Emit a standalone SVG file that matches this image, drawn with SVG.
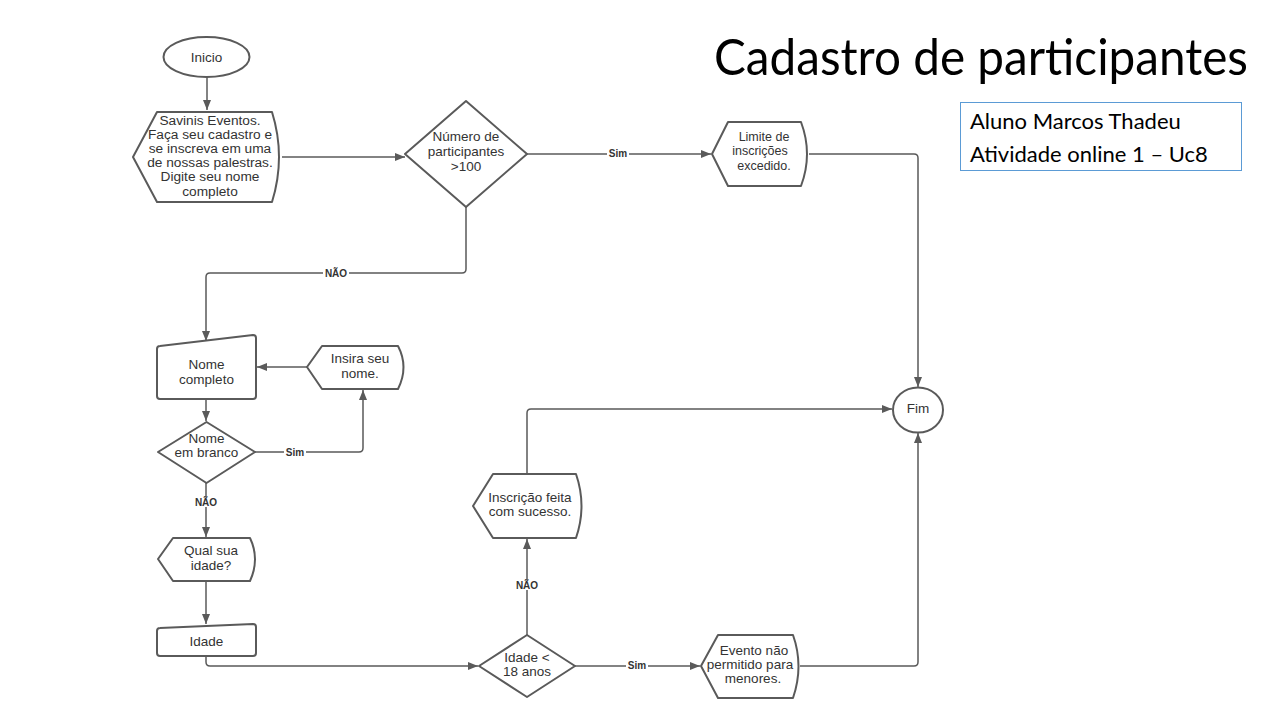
<svg xmlns="http://www.w3.org/2000/svg" width="1280" height="720" viewBox="0 0 1280 720">
<defs>
<marker id="arr" viewBox="0 0 10 10" refX="10" refY="5" markerWidth="10" markerHeight="10" markerUnits="userSpaceOnUse" orient="auto">
<path d="M0,1 L10,5 L0,9 Z" fill="#5a5a5a"/>
</marker>
<style>
.n{fill:#fff;stroke:#5a5a5a;stroke-width:2;stroke-linejoin:round}
.t{font-family:"Liberation Sans",Arial,sans-serif;font-size:13.5px;fill:#333;text-anchor:middle}
.c{fill:none;stroke:#5a5a5a;stroke-width:1.5;stroke-linejoin:round}
.l{font-family:"Liberation Sans",Arial,sans-serif;font-size:10px;font-weight:bold;fill:#333;text-anchor:middle}
.lb{fill:#fff}
</style>
</defs>
<rect width="1280" height="720" fill="#fff"/>

<g id="connectors">
<path class="c" d="M207,77 V110" marker-end="url(#arr)"/>
<path class="c" d="M282,157 H405" marker-end="url(#arr)"/>
<path class="c" d="M527,154 H711" marker-end="url(#arr)"/>
<path class="c" d="M809,154 H914 Q918,154 918,158 V387" marker-end="url(#arr)"/>
<path class="c" d="M466,207 V269 Q466,273 462,273 H210 Q206,273 206,277 V341" marker-end="url(#arr)"/>
<path class="c" d="M307,367 H257" marker-end="url(#arr)"/>
<path class="c" d="M206,399 V421" marker-end="url(#arr)"/>
<path class="c" d="M255,452 H359 Q363,452 363,448 V390" marker-end="url(#arr)"/>
<path class="c" d="M206,483 V537" marker-end="url(#arr)"/>
<path class="c" d="M206,581 V624" marker-end="url(#arr)"/>
<path class="c" d="M206,656 V662 Q206,666 210,666 H478" marker-end="url(#arr)"/>
<path class="c" d="M527,635 V539" marker-end="url(#arr)"/>
<path class="c" d="M527,474 V413 Q527,409 531,409 H892" marker-end="url(#arr)"/>
<path class="c" d="M575,666 H700" marker-end="url(#arr)"/>
<path class="c" d="M800,666 H914 Q918,666 918,662 V433" marker-end="url(#arr)"/>
<rect class="lb" x="323" y="268" width="26" height="10"/>
<text class="l" x="336" y="277">NÃO</text>
<rect class="lb" x="607" y="149" width="22" height="10"/>
<text class="l" x="618" y="157">Sim</text>
<rect class="lb" x="284" y="447" width="22" height="10"/>
<text class="l" x="295" y="456">Sim</text>
<rect class="lb" x="193" y="497" width="26" height="10"/>
<text class="l" x="206" y="506">NÃO</text>
<rect class="lb" x="514" y="580" width="26" height="10"/>
<text class="l" x="527" y="589">NÃO</text>
<rect class="lb" x="626" y="661" width="22" height="10"/>
<text class="l" x="637" y="669">Sim</text>
</g>

<g id="inicio">
<ellipse class="n" cx="206.5" cy="57" rx="43" ry="20"/>
<text class="t" x="206.5" y="61.5">Inicio</text>
</g>

<g id="savinis">
<path class="n" d="M133,157 L157,112 H272 Q286,157 272,202 H157 Z"/>
<text class="t" style="font-size:13.7px"><tspan x="210" y="125">Savinis Eventos.</tspan><tspan x="210" y="139.1">Faça seu cadastro e</tspan><tspan x="210" y="153.2">se inscreva em uma</tspan><tspan x="210" y="167.3">de nossas palestras.</tspan><tspan x="210" y="181.4">Digite seu nome</tspan><tspan x="210" y="195.5">completo</tspan></text>
</g>

<g id="num-participantes">
<path class="n" d="M466,101 L527,154 L466,207 L405,154 Z"/>
<text class="t"><tspan x="466" y="141">Número de</tspan><tspan x="466" y="156">participantes</tspan><tspan x="466" y="171">&gt;100</tspan></text>
</g>

<g id="limite">
<path class="n" d="M712,154 L728,122 H801 Q813,154 801,186 H728 Z"/>
<text class="t" style="font-size:12.5px"><tspan x="764" y="141">Limite de</tspan><tspan x="760" y="155">inscrições</tspan><tspan x="764" y="170">excedido.</tspan></text>
</g>

<g id="nome-completo">
<path class="n" d="M160,346 L253,335 Q256,335 256,338 V396 Q256,399 253,399 H160 Q157,399 157,396 V349 Q157,346 160,346 Z"/>
<text class="t"><tspan x="206.5" y="369">Nome</tspan><tspan x="206.5" y="384">completo</tspan></text>
</g>

<g id="insira">
<path class="n" d="M307,367 L322,346 H398 Q409,367 398,389 H322 Z"/>
<text class="t"><tspan x="360" y="363">Insira seu</tspan><tspan x="360" y="378">nome.</tspan></text>
</g>

<g id="nome-branco">
<path class="n" d="M206.5,422 L255,452 L206.5,483 L158,452 Z"/>
<text class="t"><tspan x="206.5" y="443">Nome</tspan><tspan x="206.5" y="457">em branco</tspan></text>
</g>

<g id="qual-idade">
<path class="n" d="M158,559 L173,538 H250 Q260,559 250,581 H173 Z"/>
<text class="t"><tspan x="211" y="555">Qual sua</tspan><tspan x="211" y="570">idade?</tspan></text>
</g>

<g id="idade">
<path class="n" d="M160,628 L253,624 Q256,624 256,627 V653 Q256,656 253,656 H160 Q157,656 157,653 V631 Q157,628 160,628 Z"/>
<text class="t" x="206.5" y="646">Idade</text>
</g>

<g id="idade-18">
<path class="n" d="M527,635 L575,666 L527,697 L479,666 Z"/>
<text class="t"><tspan x="527" y="662">Idade &lt;</tspan><tspan x="527" y="676">18 anos</tspan></text>
</g>

<g id="inscricao">
<path class="n" d="M473,506 L493,474 H576 Q587,506 576,538 H493 Z"/>
<text class="t"><tspan x="530" y="502">Inscrição feita</tspan><tspan x="530" y="516">com sucesso.</tspan></text>
</g>

<g id="evento">
<path class="n" d="M701,666 L718,635 H793 Q804,666 793,698 H718 Z"/>
<text class="t"><tspan x="754" y="655">Evento não</tspan><tspan x="750" y="669">permitido para</tspan><tspan x="753" y="683">menores.</tspan></text>
</g>

<g id="fim">
<ellipse class="n" cx="918" cy="410" rx="25" ry="22.5"/>
<text class="t" x="918" y="413">Fim</text>
</g>

<g id="title">
<text x="714" y="75" font-family="Lato,'Open Sans',sans-serif" font-size="50" fill="#000" textLength="534" lengthAdjust="spacingAndGlyphs">Cadastro de participantes</text>
</g>

<g id="info">
<rect x="960.5" y="102.5" width="281" height="68" fill="#fff" stroke="#5b9bd5" stroke-width="1"/>
<text x="970" y="129" font-family="Lato,'Open Sans',sans-serif" font-size="22" fill="#000">Aluno Marcos Thadeu</text>
<text x="970" y="162" font-family="Lato,'Open Sans',sans-serif" font-size="22" fill="#000">Atividade online 1 – Uc8</text>
</g>
</svg>
